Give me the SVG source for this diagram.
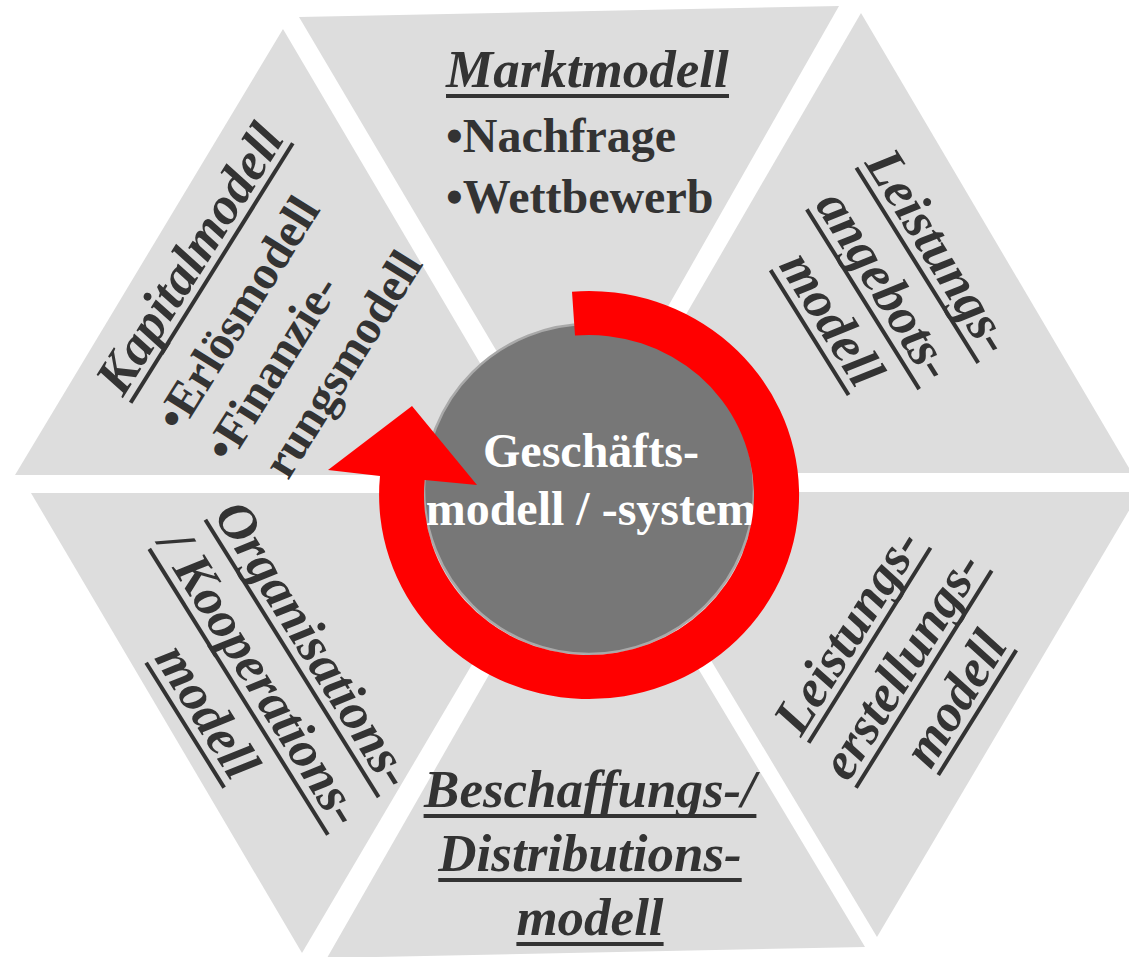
<svg xmlns="http://www.w3.org/2000/svg" width="1129" height="957" viewBox="0 0 1129 957">
  <style>
    .tri { fill: #dddddd; }
    .title { font-family: "Liberation Serif", "Times New Roman", serif; font-weight: bold; font-style: italic; font-size: 53px; fill: #333333; }
    .item { font-family: "Liberation Serif", "Times New Roman", serif; font-weight: bold; font-size: 48px; fill: #333333; }
    .mid { text-anchor: middle; }
    .ul { stroke: #333333; stroke-width: 4; }
    .hub { fill: #777777; stroke: #a9a9a9; stroke-width: 2.5; }
    .hub-text { font-family: "Liberation Serif", "Times New Roman", serif; font-weight: bold; font-size: 48px; fill: #ffffff; text-anchor: middle; }
    .cycle { fill: #ff0000; }
  </style>

  <rect width="1129" height="957" fill="#ffffff"/>

  <!-- Markt (top segment) -->
  <g id="marktmodell">
    <polygon class="tri" points="299,17 839,6 571,477"/>
    <text class="title" x="446" y="87">Marktmodell</text>
    <line class="ul" x1="446" y1="96" x2="729" y2="96"/>
    <text class="item" x="446" y="152">•Nachfrage</text>
    <text class="item" x="446" y="213">•Wettbewerb</text>
  </g>

  <!-- Leistungsangebot (upper right segment) -->
  <g id="leistungsangebotsmodell">
    <polygon class="tri" points="861,13 1132,473 594,473"/>
    <g transform="translate(864,163) rotate(58)">
      <text class="title mid" x="115" y="0">Leistungs-</text>
      <line class="ul" x1="0" y1="9" x2="230" y2="9"/>
      <text class="title mid" x="115" y="64">angebots-</text>
      <line class="ul" x1="9" y1="73" x2="221" y2="73"/>
      <text class="title mid" x="115" y="127">modell</text>
      <line class="ul" x1="41.4" y1="136" x2="188.6" y2="136"/>
    </g>
  </g>

  <!-- Leistungserstellung (lower right segment) -->
  <g id="leistungserstellungsmodell">
    <polygon class="tri" points="610,492 1140,492 877,937"/>
    <g transform="translate(801,738) rotate(-58)">
      <text class="title mid" x="115" y="0">Leistungs-</text>
      <line class="ul" x1="0" y1="9" x2="230" y2="9"/>
      <text class="title mid" x="115" y="64">erstellungs-</text>
      <line class="ul" x1="-13" y1="73" x2="243" y2="73"/>
      <text class="title mid" x="115" y="127">modell</text>
      <line class="ul" x1="41.4" y1="136" x2="188.6" y2="136"/>
    </g>
  </g>

  <!-- Beschaffung / Distribution (bottom segment) -->
  <g id="beschaffungs-distributionsmodell">
    <polygon class="tri" points="327,958 865,947 593,493"/>
    <text class="title mid" x="590" y="807">Beschaffungs-/</text>
    <line class="ul" x1="423.6" y1="816" x2="756.4" y2="816"/>
    <text class="title mid" x="590" y="871">Distributions-</text>
    <line class="ul" x1="438.3" y1="880" x2="741.7" y2="880"/>
    <text class="title mid" x="590" y="935">modell</text>
    <line class="ul" x1="516.4" y1="944" x2="663.6" y2="944"/>
  </g>

  <!-- Organisation / Kooperation (lower left segment) -->
  <g id="organisations-kooperationsmodell">
    <polygon class="tri" points="31,493 573,493 302,953"/>
    <g transform="translate(213,515) rotate(58)">
      <text class="title mid" x="163.5" y="0">Organisations-</text>
      <line class="ul" x1="0" y1="9" x2="327" y2="9"/>
      <text class="title mid" x="163.5" y="63">/ Kooperations-</text>
      <line class="ul" x1="-5" y1="72" x2="332" y2="72"/>
      <text class="title mid" x="163.5" y="126">modell</text>
      <line class="ul" x1="89.9" y1="135" x2="237.1" y2="135"/>
    </g>
  </g>

  <!-- Kapital (upper left segment) -->
  <g id="kapitalmodell">
    <polygon class="tri" points="283,29 15,475 546,475"/>
    <g transform="translate(123,398) rotate(-58)">
      <text class="title" x="0" y="0">Kapitalmodell</text>
      <line class="ul" x1="0" y1="9" x2="306" y2="9"/>
      <text class="item" x="0" y="68">•Erlösmodell</text>
      <text class="item" x="0" y="126">•Finanzie-</text>
      <text class="item" x="17" y="184">rungsmodell</text>
    </g>
  </g>

  <!-- Hub -->
  <g id="geschaeftsmodell">
    <circle class="hub" cx="589" cy="489" r="165"/>
    <text class="hub-text" x="591" y="467">Geschäfts-</text>
    <text class="hub-text" x="591" y="525">modell / -system</text>
  </g>

  <!-- Circular arrow around the hub -->
  <g id="connectors">
    <path class="cycle" d="M 572,291.7 A 210 204 0 1 1 380,476 L 328,470 L 412,406 L 477,485 L 424.7,480 A 165 160 0 1 0 575,335.6 Z"/>
  </g>
</svg>
